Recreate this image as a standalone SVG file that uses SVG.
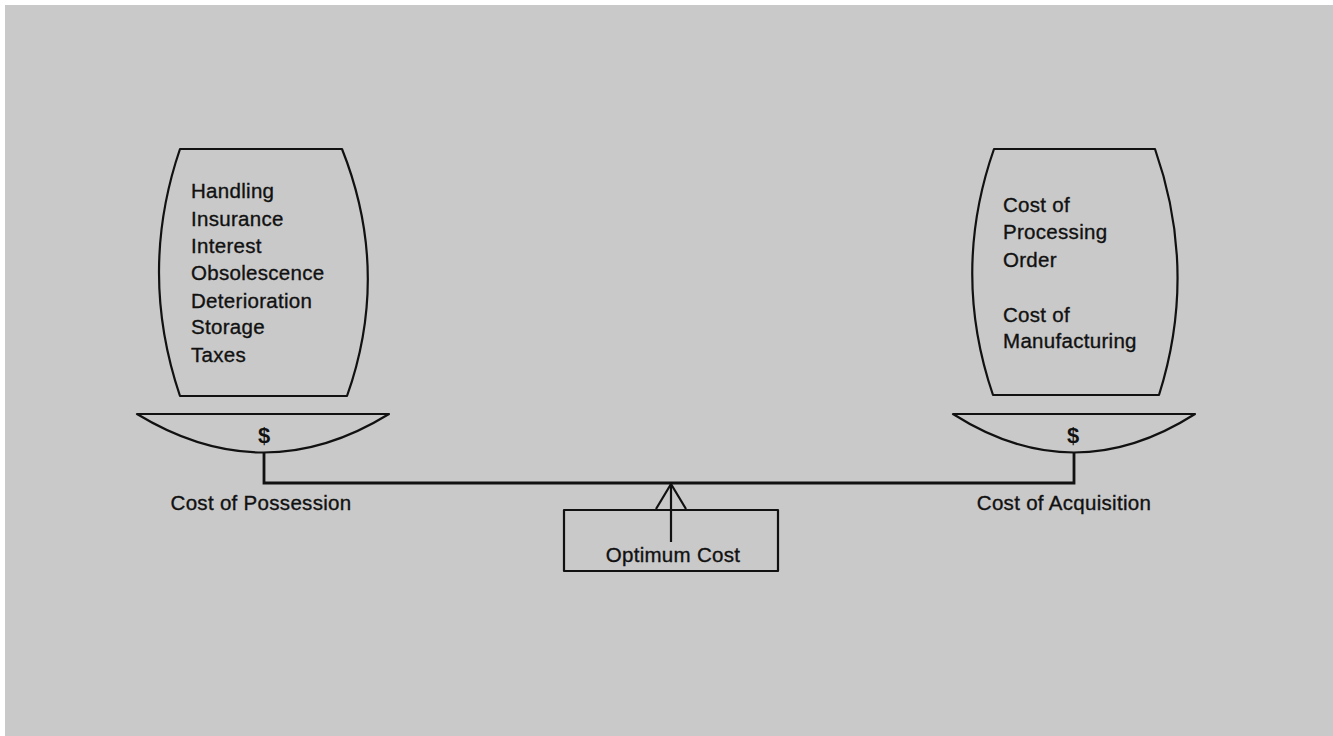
<svg xmlns="http://www.w3.org/2000/svg" width="1333" height="736" viewBox="0 0 1333 736">
  <style>
    .ln { fill: none; stroke: #111; stroke-width: 2.2; stroke-linejoin: round; }
    .beam { fill: none; stroke: #111; stroke-width: 2.8; }
    .lbl { font-family: "Liberation Sans", "DejaVu Sans", sans-serif; font-size: 20.5px; fill: #111; stroke: #111; stroke-width: 0.35; letter-spacing: 0.3px; }
    .mid { text-anchor: middle; }
    .dollar { font-family: "Liberation Sans", "DejaVu Sans", sans-serif; font-size: 22px; font-weight: bold; fill: #111; text-anchor: middle; }
  </style>

  <!-- page -->
  <rect x="0" y="0" width="1333" height="736" fill="#ffffff"/>
  <rect x="5" y="5" width="1328" height="731" fill="#c9c9c9"/>

  <!-- beam, stems and fulcrum -->
  <g id="connectors">
    <polyline class="beam" points="264,452 264,483 1074,483 1074,452"/>
    <polyline class="ln" points="656,509 671,484 686,509"/>
    <line class="ln" x1="671" y1="484" x2="671" y2="542"/>
  </g>

  <!-- left side: cost of possession -->
  <g id="possession-load">
    <path class="ln" d="M180,149 L342,149 Q391,272 347,396 L180,396 Q138,272 180,149 Z"/>
    <text class="lbl" x="191" y="198">Handling</text>
    <text class="lbl" x="191" y="226">Insurance</text>
    <text class="lbl" x="191" y="253">Interest</text>
    <text class="lbl" x="191" y="280">Obsolescence</text>
    <text class="lbl" x="191" y="308">Deterioration</text>
    <text class="lbl" x="191" y="334">Storage</text>
    <text class="lbl" x="191" y="362">Taxes</text>
  </g>
  <g id="possession-pan">
    <path class="ln" d="M137,414 L389,414 Q264,491 137,414 Z"/>
    <text class="dollar" x="264" y="443">$</text>
    <text class="lbl mid" x="261" y="510">Cost of Possession</text>
  </g>

  <!-- right side: cost of acquisition -->
  <g id="acquisition-load">
    <path class="ln" d="M994,149 L1155,149 Q1198,272 1159,395 L993,395 Q951,272 994,149 Z"/>
    <text class="lbl" x="1003" y="212">Cost of</text>
    <text class="lbl" x="1003" y="239">Processing</text>
    <text class="lbl" x="1003" y="267">Order</text>
    <text class="lbl" x="1003" y="322">Cost of</text>
    <text class="lbl" x="1003" y="348">Manufacturing</text>
  </g>
  <g id="acquisition-pan">
    <path class="ln" d="M953,414 L1195,414 Q1074,491 953,414 Z"/>
    <text class="dollar" x="1073" y="443">$</text>
    <text class="lbl mid" x="1064" y="510">Cost of Acquisition</text>
  </g>

  <!-- fulcrum base -->
  <g id="optimum">
    <rect class="ln" x="564" y="510" width="214" height="61"/>
    <text class="lbl mid" x="673" y="562">Optimum Cost</text>
  </g>
</svg>
